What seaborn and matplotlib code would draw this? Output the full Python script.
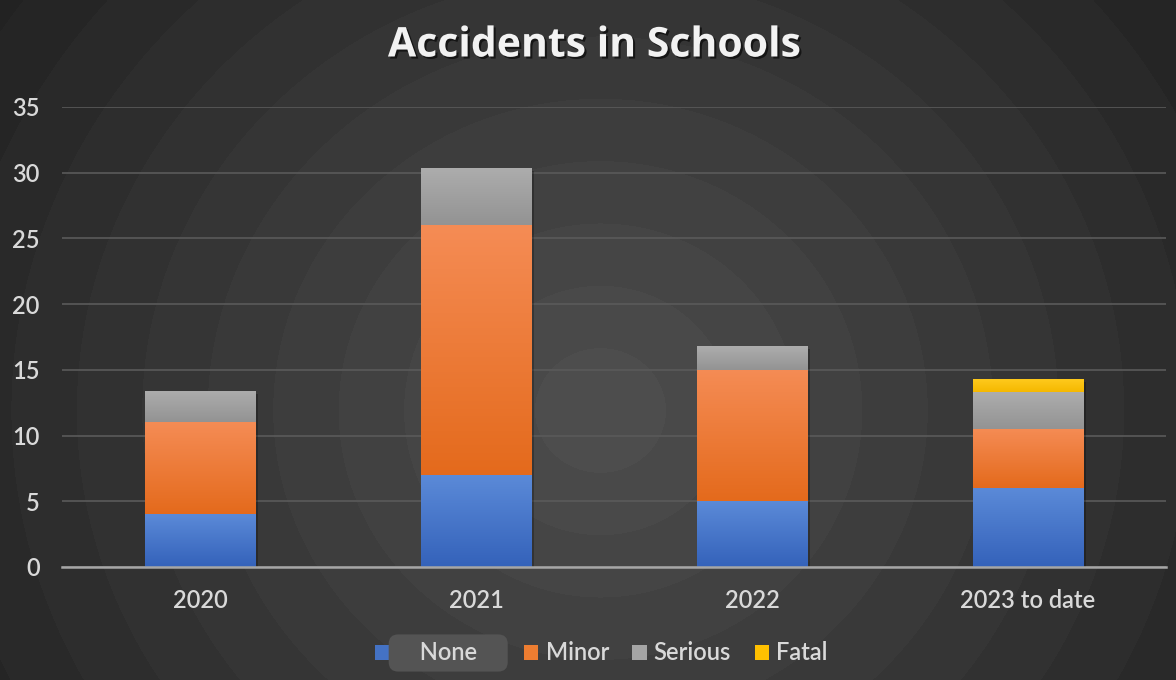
import numpy as np
import pandas as pd
import matplotlib
matplotlib.use("Agg")
import matplotlib.pyplot as plt
import matplotlib.patheffects as pe
from matplotlib.patches import Patch
import seaborn as sns

# ---- data ----
categories = ["2020", "2021", "2022", "2023 to date"]
series_names = ["None", "Minor", "Serious", "Fatal"]
none_vals = [4, 7, 5, 6]
minor_vals = [7, 19, 10, 4.5]
serious_vals = [2.4, 4.35, 1.8, 2.8]
fatal_vals = [0, 0, 0, 1.0]
yticks = [0, 5, 10, 15, 20, 25, 30, 35]

colors_top = ["#5b8ad8", "#f58c55", "#adadad", "#ffcb1f"]
colors_bot = ["#3462ba", "#e46a1c", "#939393", "#f5b800"]
legend_colors = ["#4472c4", "#ed7d31", "#a5a5a5", "#ffc000"]

sns.set_theme(style="dark")
plt.rcParams["font.family"] = ["Lato", "DejaVu Sans"]

W, H = 1176, 680
fig = plt.figure(figsize=(W / 100, H / 100), dpi=100)

# radial background
bg = fig.add_axes([0, 0, 1, 1])
yy, xx = np.mgrid[0:H, 0:W]
r = np.hypot(xx - 600, (yy - 410) * 1.05)
t = np.clip(r / 720, 0, 1)
t = np.floor(t * 11) / 11
c0 = np.array([0x4d, 0x4d, 0x4d]) / 255
c1 = np.array([0x22, 0x22, 0x22]) / 255
img = c0[None, None, :] * (1 - t[..., None]) + c1[None, None, :] * t[..., None]
bg.imshow(img, extent=[0, W, H, 0], aspect="auto")
bg.set_axis_off()

ax = fig.add_axes([62 / W, 1 - 567 / H, (1166 - 62) / W, (567 - 107) / H])
ax.patch.set_alpha(0)

vals = [none_vals, minor_vals, serious_vals, fatal_vals]
cums = np.cumsum(np.array(vals, dtype=float), axis=0)
lowers = np.vstack([np.zeros(len(categories)), cums[:-1]])

# draw cumulative totals, tallest first so lower series overlay
for i in reversed(range(len(series_names))):
    df = pd.DataFrame({"cat": categories, "v": cums[i]})
    n_before = len(ax.patches)
    sns.barplot(data=df, x="cat", y="v", ax=ax, color=legend_colors[i],
                width=0.4, saturation=1, linewidth=0, zorder=2 + (3 - i))
    new = ax.patches[n_before:]
    grad = np.linspace(0, 1, 256)[:, None]
    ctop = np.array(matplotlib.colors.to_rgb(colors_top[i]))
    cbot = np.array(matplotlib.colors.to_rgb(colors_bot[i]))
    gimg = ctop[None, None, :] * (1 - grad[..., None]) + cbot[None, None, :] * grad[..., None]
    for j, p in enumerate(new):
        lo, hi = lowers[i][j], cums[i][j]
        if hi - lo <= 0:
            p.set_visible(False)
            continue
        x0 = p.get_x()
        x1 = x0 + p.get_width()
        if i == 3 or (i == 2 and j < 3):
            p.set_path_effects([pe.SimplePatchShadow(offset=(2, -2), shadow_rgbFace="black", alpha=0.25), pe.Normal()])
        im = ax.imshow(gimg, extent=[x0, x1, lo, hi], aspect="auto",
                       origin="upper", zorder=2.05 + (3 - i), interpolation="bilinear")
        im.set_clip_path(p)

ax.set_xlim(-0.5, 3.5)
ax.set_ylim(0, 35)
ax.set_yticks(yticks)
ax.set_xlabel("")
ax.set_ylabel("")
ax.grid(axis="y", color="#5a5a5a", linewidth=1.2, zorder=0)
ax.grid(axis="x", visible=False)
ax.set_axisbelow(True)
for s in ["top", "right", "left"]:
    ax.spines[s].set_visible(False)
ax.spines["bottom"].set_color("#a6a6a6")
ax.spines["bottom"].set_linewidth(1.8)
ax.spines["bottom"].set_zorder(10)
ax.tick_params(axis="both", colors="#d9d9d9", labelsize=17, length=0)
ax.tick_params(axis="y", pad=16)
ax.tick_params(axis="x", pad=16)
for lbl in ax.get_yticklabels() + ax.get_xticklabels():
    lbl.set_fontweight("semibold")

fig.text(595 / W, 1 - 46 / H, "Accidents in Schools", ha="center", va="center",
         color="#f2f2f2", fontsize=29.5, fontweight="bold", family=["Open Sans", "DejaVu Sans"],
         path_effects=[pe.withSimplePatchShadow(offset=(1.5, -1.5), shadow_rgbFace="black", alpha=0.6)])

handles = [Patch(facecolor=c, edgecolor="none") for c in legend_colors]
leg = fig.legend(handles, series_names, loc="center", bbox_to_anchor=(601 / W, 1 - 653 / H),
                 ncol=4, frameon=False, handlelength=0.6, handleheight=0.6,
                 handletextpad=0.3, columnspacing=1.0,
                 prop={"size": 17, "weight": "semibold"})
for t_ in leg.get_texts():
    t_.set_color("#d9d9d9")
pad_sp = "\u2002" * 2
leg.get_texts()[0].set_text(pad_sp + series_names[0] + pad_sp)
leg.get_texts()[0].set_bbox(dict(boxstyle="round,pad=0.3,rounding_size=0.4", facecolor="#545454", edgecolor="none"))

fig.savefig("out.png", dpi=100)
